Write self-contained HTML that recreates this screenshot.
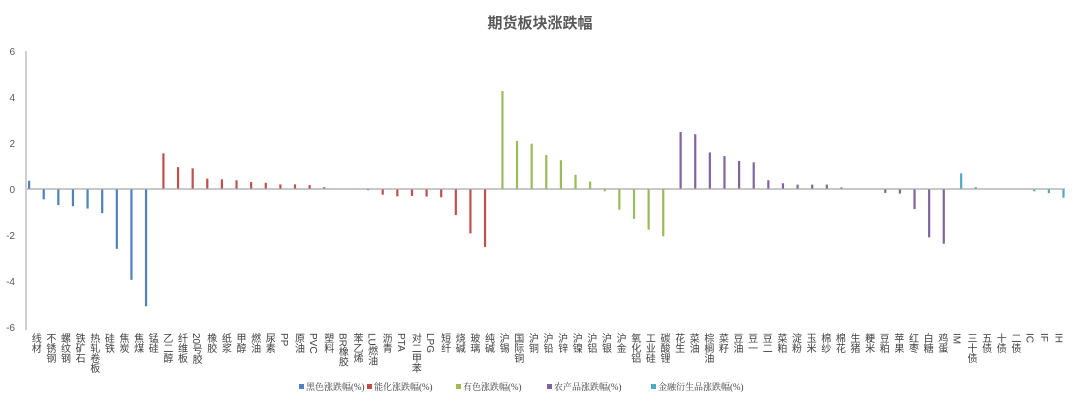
<!DOCTYPE html>
<html><head><meta charset="utf-8"><style>
body{margin:0;background:#fff;width:1080px;height:405px;overflow:hidden;position:relative;font-family:"Liberation Sans","Noto Sans CJK SC",sans-serif}
svg{position:absolute;left:0;top:0}
svg text{font-family:"Liberation Sans","Noto Sans CJK SC",sans-serif}
.xl{position:absolute;top:333px;width:12px;font-size:10px;line-height:12px;color:#404040;writing-mode:vertical-rl;text-orientation:mixed;white-space:nowrap;font-family:"Liberation Sans","Noto Sans CJK SC",sans-serif}
</style></head><body>
<svg id="chart" width="1080" height="405"></svg>
<div id="labels"></div>
<script>
const black=["线材","不锈钢","螺纹钢","铁矿石","热轧卷板","硅铁","焦炭","焦煤","锰硅"];
const blackVals=[0.36,-0.45,-0.7,-0.75,-0.85,-1.05,-2.6,-3.95,-5.1];
const chem=["乙二醇","纤维板","20号胶","橡胶","纸浆","甲醇","燃油","尿素","PP","原油","PVC","塑料","BR橡胶","苯乙烯","LU燃油","沥青","PTA","对二甲苯","LPG","短纤","烧碱","玻璃","纯碱"];
const chemVals=[1.55,0.95,0.9,0.45,0.42,0.38,0.3,0.27,0.2,0.2,0.17,0.08,0,0,-0.05,-0.25,-0.32,-0.3,-0.33,-0.36,-1.13,-1.93,-2.52];
const metal=["沪锡","国际铜","沪铜","沪铅","沪锌","沪镍","沪铝","沪银","沪金","氧化铝","工业硅","碳酸锂"];
const metalVals=[4.26,2.09,1.97,1.48,1.25,0.62,0.32,-0.1,-0.9,-1.3,-1.77,-2.06];
const agri=["花生","菜油","棕榈油","菜籽","豆油","豆一","豆二","菜粕","淀粉","玉米","棉纱","棉花","生猪","粳米","豆粕","苹果","红枣","白糖","鸡蛋"];
const agriVals=[2.48,2.38,1.59,1.43,1.22,1.16,0.38,0.25,0.19,0.19,0.19,0.07,0,0,-0.17,-0.2,-0.87,-2.1,-2.38];
const fin=["IM","三十债","五债","十债","二债","IC","IF","IH"];
const finVals=[0.68,0.08,0,0,0,-0.1,-0.18,-0.38];
const seriesNames=["黑色涨跌幅(%)","能化涨跌幅(%)","有色涨跌幅(%)","农产品涨跌幅(%)","金融衍生品涨跌幅(%)"];
const yTicks=[6,4,2,0,-2,-4,-6];

const colors=["#4f81bd","#c0504d","#9bbb59","#8064a2","#4bacc6"];
const groups=[[black,blackVals],[chem,chemVals],[metal,metalVals],[agri,agriVals],[fin,finVals]];
const svg=document.getElementById('chart');
const labels=document.getElementById('labels');
const NS="http://www.w3.org/2000/svg";
const X0=27,X1=1065,YT=51,YB=327,YMAX=6,YMIN=-6;
const total=groups.reduce((s,g)=>s+g[0].length,0);
const slot=(X1-X0)/total;
const y=v=>YT+(YMAX-v)/(YMAX-YMIN)*(YB-YT);
const xs=i=>X0+i*slot;
function el(t,a){const e=document.createElementNS(NS,t);for(const k in a)e.setAttribute(k,a[k]);svg.appendChild(e);return e;}

const title=el('text',{x:540,y:28,'text-anchor':'middle','font-size':15,'font-weight':'bold',fill:'#595959'});
title.textContent='期货板块涨跌幅';



yTicks.forEach(t=>{
  const tx=el('text',{x:15,y:y(t)+4,'text-anchor':'end','font-size':10,fill:'#595959'});
  tx.textContent=t;
  
  
});
const ax=el('line',{x1:X0-1,x2:X0-1,y1:YT,y2:YB+3,stroke:'#bfbfbf','stroke-width':1.5});



let idx=0;
groups.forEach((g,k)=>{
  g[0].forEach((name,j)=>{
    const v=g[1][j];
    const bx=xs(idx)+1+k*2.75;
    const y0=y(0),yv=y(v);
    const r=el('rect',{x:bx,y:Math.min(y0,yv),width:2.2,height:Math.max(Math.abs(yv-y0),0.01),fill:colors[k]});
    
    
    const cx=xs(idx)+slot/2;
    const lb=document.createElement('div');
    lb.className='xl';
    lb.style.left=(cx-6)+'px';
    lb.textContent=name;
    
    
    labels.appendChild(lb);
    idx++;
  });
});
const zl=el('line',{x1:X0,x2:X1,y1:y(0),y2:y(0),stroke:'#a6a6a6','stroke-width':1.2});



const lx=[299,367,456,547,651];
seriesNames.forEach((n,k)=>{
  const s=el('rect',{x:lx[k],y:384,width:5,height:5,fill:colors[k]});
  
  
  const t=el('text',{x:lx[k]+7,y:390,'font-size':9,fill:'#404040',style:'font-family:"Liberation Serif","Noto Serif CJK SC",serif'});
  t.textContent=n;
  
  
});
</script>
</body></html>
